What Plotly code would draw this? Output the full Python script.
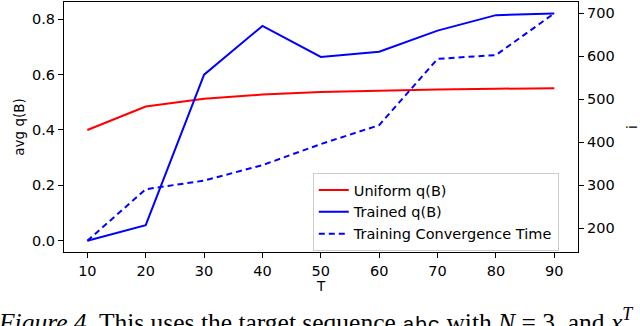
import plotly.graph_objects as go

T = [10, 20, 30, 40, 50, 60, 70, 80, 90]
uniform_q = [0.400, 0.485, 0.513, 0.528, 0.537, 0.542, 0.546, 0.549, 0.551]
trained_q = [0.000, 0.056, 0.600, 0.776, 0.664, 0.683, 0.759, 0.815, 0.821]
conv_time = [171, 291, 311, 347, 396, 440, 594, 603, 700]

left_ticks = [0.0, 0.2, 0.4, 0.6, 0.8]
right_ticks = [200, 300, 400, 500, 600, 700]

fig = go.Figure()

fig.add_trace(go.Scatter(x=T, y=uniform_q, mode='lines', name='Uniform q(B)',
                         line=dict(color='rgb(255,0,0)', width=2)))
fig.add_trace(go.Scatter(x=T, y=trained_q, mode='lines', name='Trained q(B)',
                         line=dict(color='rgb(0,0,255)', width=2)))
fig.add_trace(go.Scatter(x=T, y=conv_time, mode='lines', name='Training Convergence Time',
                         line=dict(color='rgb(0,0,255)', width=2, dash='6px,4px'),
                         yaxis='y2'))

axis_style = dict(showline=True, linecolor='black', linewidth=1.2,
                  ticks='outside', ticklen=5, tickwidth=1, tickcolor='black',
                  showgrid=False, zeroline=False, automargin=False,
                  tickfont=dict(family='DejaVu Sans', size=14.5, color='black'))

fig.update_layout(
    width=640, height=326,
    margin=dict(l=64, r=62, t=2, b=74),
    plot_bgcolor='white', paper_bgcolor='white',
    font=dict(family='DejaVu Sans', size=13.5, color='black'),
    xaxis=dict(range=[6.0, 94.06], tickvals=T, mirror=True, **axis_style,
               title=dict(text='T', standoff=4, font=dict(size=13.5))),
    yaxis=dict(range=[-0.041, 0.8625], tickvals=left_ticks, tickformat='.1f', mirror=True,
               **axis_style,
               title=dict(text='avg q(B)', standoff=4, font=dict(size=13.5))),
    yaxis2=dict(range=[145, 726.3], tickvals=right_ticks, overlaying='y', side='right',
                **axis_style,
                title=dict(text='i', standoff=13, font=dict(size=13.5))),
    legend=dict(x=0.484, y=0.316, xanchor='left', yanchor='top',
                bgcolor='rgba(255,255,255,0.8)', bordercolor='rgb(204,204,204)', borderwidth=1,
                font=dict(family='DejaVu Sans', size=14.5), tracegroupgap=0,
                itemwidth=30),
    showlegend=True,
)

fig.add_annotation(
    xref='paper', yref='paper', x=-0.132, y=-0.198, xanchor='left', yanchor='top',
    showarrow=False, align='left',
    text=("<i>Figure 4.</i> This uses the target sequence "
          "<span style='font-family:Liberation Mono;font-size:21px'>abc</span> with "
          "<i>N</i> = 3, and <i>x</i><sup><i>T</i></sup>"),
    font=dict(family='Liberation Serif', size=25.5, color='black'),
)

fig.write_html("out.html", config={'displayModeBar': False},
               post_script="document.body.style.margin='0';")
